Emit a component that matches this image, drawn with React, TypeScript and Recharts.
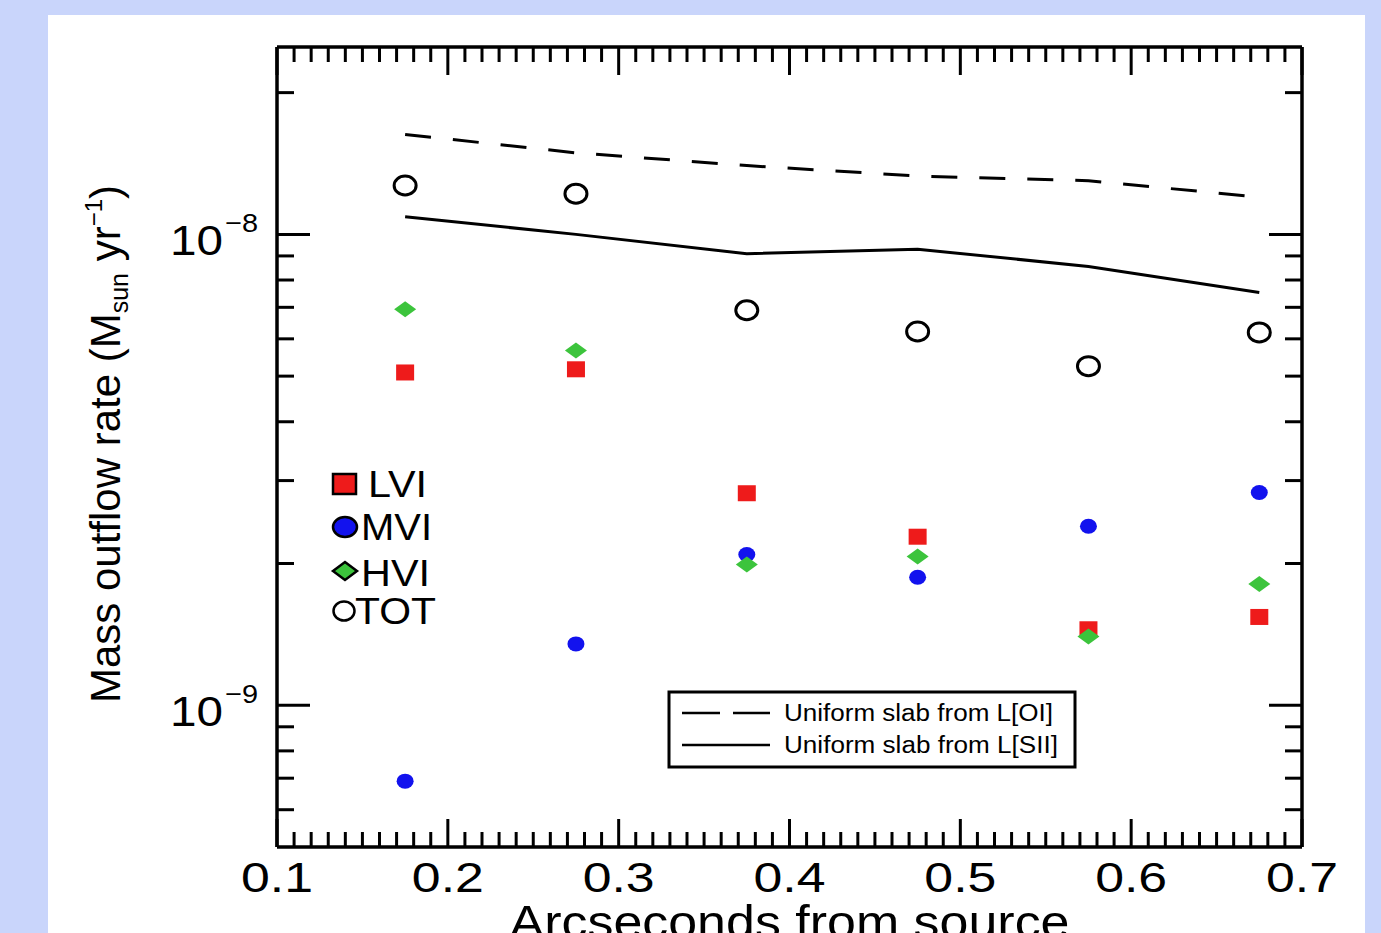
import React from "react";
import { ComposedChart, Scatter, Line, XAxis, YAxis } from "recharts";

// values (Msun / yr)
const arcsec = [0.175, 0.275, 0.375, 0.475, 0.575, 0.675];
const lvi = [5.09e-9, 5.17e-9, 2.82e-9, 2.28e-9, 1.45e-9, 1.54e-9];
const mvi = [6.9e-10, 1.35e-9, 2.09e-9, 1.87e-9, 2.4e-9, 2.83e-9];
const hvi = [6.93e-9, 5.67e-9, 1.99e-9, 2.07e-9, 1.4e-9, 1.81e-9];
const tot = [1.27e-8, 1.22e-8, 6.9e-9, 6.22e-9, 5.25e-9, 6.19e-9];
const slabOI = [1.63e-8, 1.49e-8, 1.4e-8, 1.33e-8, 1.3e-8, 1.2e-8];
const slabSII = [1.09e-8, 1.0e-8, 9.1e-9, 9.3e-9, 8.55e-9, 7.53e-9];

const xMajor = [0.1, 0.2, 0.3, 0.4, 0.5, 0.6, 0.7];
const yTicks = [
  6e-10, 7e-10, 8e-10, 9e-10, 1e-9, 2e-9, 3e-9, 4e-9, 5e-9, 6e-9, 7e-9, 8e-9, 9e-9, 1e-8, 2e-8,
];
const xDomain: [number, number] = [0.1, 0.7];
const yDomain: [number, number] = [5e-10, 2.5e-8];

const rows = arcsec.map((x, i) => ({
  x,
  lvi: lvi[i],
  mvi: mvi[i],
  hvi: hvi[i],
  tot: tot[i],
  oi: slabOI[i],
  sii: slabSII[i],
}));

// minor ticks every 0.01 between the majors
const xTicks: number[] = [];
xMajor.forEach((m, i) => {
  xTicks.push(m);
  if (i < xMajor.length - 1) {
    for (let k = 1; k < 10; k++) xTicks.push(Math.round((m + k * 0.01) * 1000) / 1000);
  }
});

const FONT = '"Liberation Sans", Arial, Helvetica, sans-serif';
const RED = "#ee1b1b";
const BLUE = "#1212ee";
const GREEN = "#3cc43c";

const isMajorX = (v: number) => Math.abs(v * 10 - Math.round(v * 10)) < 1e-6;
const isMajorY = (v: number) => Math.abs(Math.log10(v) - Math.round(Math.log10(v))) < 1e-6;

const XTick = (props: any) => {
  const { x, y, payload, side } = props;
  const major = isMajorX(payload.value);
  const len = major ? 28 : 15;
  const dir = side === "bottom" ? -1 : 1;
  return (
    <g>
      <line x1={x} x2={x} y1={y} y2={y + dir * len} stroke="#000" strokeWidth={3} />
      {major && side === "bottom" && (
        <text
          x={x}
          y={y + 45}
          textAnchor="middle"
          fontSize={42}
          fontFamily={FONT}
          fill="#000"
          textLength={72}
          lengthAdjust="spacingAndGlyphs"
        >
          {payload.value.toFixed(1)}
        </text>
      )}
    </g>
  );
};

const YTick = (props: any) => {
  const { x, y, payload, side } = props;
  const major = isMajorY(payload.value);
  const len = major ? 33 : 17;
  const dir = side === "left" ? 1 : -1;
  const exp = Math.round(Math.log10(payload.value));
  return (
    <g>
      <line x1={x} x2={x + dir * len} y1={y} y2={y} stroke="#000" strokeWidth={3} />
      {major && side === "left" && (
        <g fontFamily={FONT} fill="#000">
          <text x={x - 107} y={y + 21} fontSize={42} textLength={53} lengthAdjust="spacingAndGlyphs">
            10
          </text>
          <text x={x - 52} y={y - 2} fontSize={26} textLength={33} lengthAdjust="spacingAndGlyphs">
            {"\u2212" + Math.abs(exp)}
          </text>
        </g>
      )}
    </g>
  );
};

const XTitle = (props: any) => {
  const vb = props.viewBox || { x: 277, width: 1025, y: 847 };
  return (
    <text
      x={vb.x + vb.width / 2}
      y={vb.y + 91}
      textAnchor="middle"
      fontSize={46}
      fontFamily={FONT}
      fill="#000"
      textLength={560}
      lengthAdjust="spacingAndGlyphs"
    >
      Arcseconds from source
    </text>
  );
};

const YTitle = (props: any) => {
  const vb = props.viewBox || { x: 0, y: 47, height: 800 };
  const cy = vb.y + vb.height / 2 - 3;
  return (
    <g transform={`translate(120, ${cy}) rotate(-90)`}>
      <text x={0} y={0} textAnchor="middle" fontSize={42} fontFamily={FONT} fill="#000">
        <tspan>Mass outflow rate (M</tspan>
        <tspan fontSize={25} dy={8}>
          sun
        </tspan>
        <tspan dy={-8}> yr</tspan>
        <tspan fontSize={24} dy={-18}>
          {"\u22121"}
        </tspan>
        <tspan dy={18}>)</tspan>
      </text>
    </g>
  );
};

const Square = (p: any) => <rect x={p.cx - 9} y={p.cy - 8} width={18} height={16} fill={RED} />;
const Dot = (p: any) => <ellipse cx={p.cx} cy={p.cy} rx={8.5} ry={7.5} fill={BLUE} />;
const Diamond = (p: any) => (
  <polygon
    points={`${p.cx - 11},${p.cy} ${p.cx},${p.cy - 8} ${p.cx + 11},${p.cy} ${p.cx},${p.cy + 8}`}
    fill={GREEN}
  />
);
const Ring = (p: any) => (
  <ellipse cx={p.cx} cy={p.cy} rx={11} ry={9.5} fill="none" stroke="#000" strokeWidth={3} />
);

const Legends = () => (
  <svg
    width={1381}
    height={933}
    style={{ position: "absolute", left: 0, top: 0, pointerEvents: "none" }}
  >
    {/* symbol key */}
    <g fontFamily={FONT} fontSize={36} fill="#000">
      <rect x={333} y={474} width={23} height={20} fill={RED} stroke="#000" strokeWidth={2.5} />
      <text x={368} y={497} textLength={59} lengthAdjust="spacingAndGlyphs">LVI</text>
      <ellipse cx={345} cy={527} rx={12} ry={10} fill={BLUE} stroke="#000" strokeWidth={2.5} />
      <text x={361} y={540} textLength={71} lengthAdjust="spacingAndGlyphs">MVI</text>
      <polygon points="333,571 345,562 357,571 345,580" fill={GREEN} stroke="#000" strokeWidth={2.5} />
      <text x={361} y={586} textLength={69} lengthAdjust="spacingAndGlyphs">HVI</text>
      <ellipse cx={344} cy={611} rx={10.5} ry={9.5} fill="none" stroke="#000" strokeWidth={2.5} />
      <text x={355} y={624} textLength={81} lengthAdjust="spacingAndGlyphs">TOT</text>
    </g>
    {/* line key */}
    <rect x={669} y={692} width={406} height={75} fill="#fff" stroke="#000" strokeWidth={3} />
    <line x1={682} x2={770} y1={713} y2={713} stroke="#000" strokeWidth={2.5} strokeDasharray="38 13" />
    <line x1={682} x2={770} y1={745} y2={745} stroke="#000" strokeWidth={2.5} />
    <g fontFamily={FONT} fontSize={23} fill="#000">
      <text x={784} y={721} textLength={269} lengthAdjust="spacingAndGlyphs">
        Uniform slab from L[OI]
      </text>
      <text x={784} y={753} textLength={274} lengthAdjust="spacingAndGlyphs">
        Uniform slab from L[SII]
      </text>
    </g>
  </svg>
);

const axisLine = { stroke: "#000", strokeWidth: 3.5 };

export default function App() {
  return (
    <div
      style={{
        position: "absolute",
        left: 0,
        top: 0,
        width: 1381,
        height: 933,
        background: "#c9d5fb",
        overflow: "hidden",
      }}
    >
      <div
        style={{
          position: "absolute",
          left: 48,
          top: 15,
          width: 1317,
          height: 918,
          background: "#ffffff",
        }}
      />
      <div style={{ position: "absolute", left: 0, top: 0 }}>
        <ComposedChart
          width={1381}
          height={933}
          data={rows}
          margin={{ top: 0, right: 0, bottom: 0, left: 0 }}
        >
          <XAxis
            xAxisId={0}
            dataKey="x"
            type="number"
            domain={xDomain}
            allowDataOverflow
            ticks={xTicks}
            interval={0}
            height={86}
            tickSize={0}
            tickMargin={0}
            tickLine={false}
            axisLine={axisLine}
            tick={(p: any) => <XTick {...p} side="bottom" />}
            label={<XTitle />}
          />
          <XAxis
            xAxisId="top"
            orientation="top"
            dataKey="x"
            type="number"
            domain={xDomain}
            allowDataOverflow
            ticks={xTicks}
            interval={0}
            height={47}
            tickSize={0}
            tickMargin={0}
            tickLine={false}
            axisLine={axisLine}
            tick={(p: any) => <XTick {...p} side="top" />}
          />
          <YAxis
            yAxisId={0}
            type="number"
            scale="log"
            domain={yDomain}
            allowDataOverflow
            ticks={yTicks}
            interval={0}
            width={277}
            tickSize={0}
            tickMargin={0}
            tickLine={false}
            axisLine={axisLine}
            tick={(p: any) => <YTick {...p} side="left" />}
            label={<YTitle />}
          />
          <YAxis
            yAxisId="right"
            orientation="right"
            type="number"
            scale="log"
            domain={yDomain}
            allowDataOverflow
            ticks={yTicks}
            interval={0}
            width={79}
            tickSize={0}
            tickMargin={0}
            tickLine={false}
            axisLine={axisLine}
            tick={(p: any) => <YTick {...p} side="right" />}
          />
          <Line
            dataKey="oi"
            type="linear"
            stroke="#000"
            strokeWidth={3}
            strokeDasharray="26 22"
            dot={false}
            isAnimationActive={false}
          />
          <Line
            dataKey="sii"
            type="linear"
            stroke="#000"
            strokeWidth={3}
            dot={false}
            isAnimationActive={false}
          />
          <Scatter dataKey="lvi" shape={Square} isAnimationActive={false} />
          <Scatter dataKey="mvi" shape={Dot} isAnimationActive={false} />
          <Scatter dataKey="hvi" shape={Diamond} isAnimationActive={false} />
          <Scatter dataKey="tot" shape={Ring} isAnimationActive={false} />
        </ComposedChart>
      </div>
      <Legends />
    </div>
  );
}
